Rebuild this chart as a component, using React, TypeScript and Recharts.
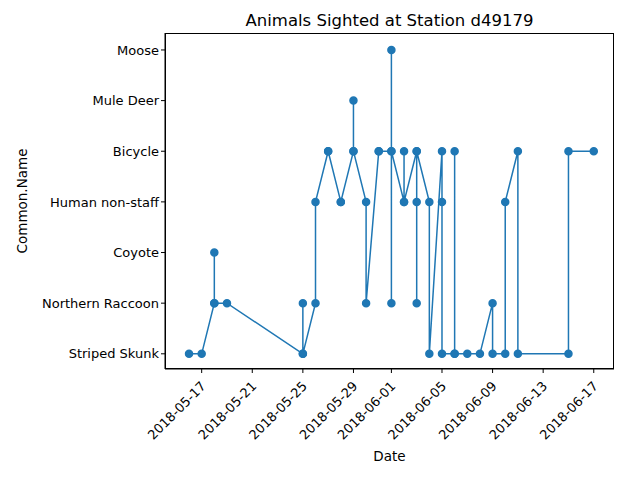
import { LineChart, Line, XAxis, YAxis } from "recharts";

const categories = ["Striped Skunk", "Northern Raccoon", "Coyote", "Human non-staff", "Bicycle", "Mule Deer", "Moose"];

const sightingDates = [
	"2018-05-16", "2018-05-17", "2018-05-18", "2018-05-18", "2018-05-18", "2018-05-19",
	"2018-05-25", "2018-05-25", "2018-05-25", "2018-05-26", "2018-05-26", "2018-05-27",
	"2018-05-27", "2018-05-28", "2018-05-28", "2018-05-29", "2018-05-29", "2018-05-29",
	"2018-05-30", "2018-05-30", "2018-05-31", "2018-05-31", "2018-06-01", "2018-06-01",
	"2018-06-01", "2018-06-01", "2018-06-02", "2018-06-02", "2018-06-02", "2018-06-03",
	"2018-06-03", "2018-06-03", "2018-06-03", "2018-06-04", "2018-06-04", "2018-06-05",
	"2018-06-05", "2018-06-05", "2018-06-06", "2018-06-06", "2018-06-06", "2018-06-07",
	"2018-06-08", "2018-06-09", "2018-06-09", "2018-06-10", "2018-06-10", "2018-06-11",
	"2018-06-11", "2018-06-15", "2018-06-15", "2018-06-17",
];

const sightingNames = [
	"Striped Skunk", "Striped Skunk", "Northern Raccoon", "Coyote", "Northern Raccoon", "Northern Raccoon",
	"Striped Skunk", "Northern Raccoon", "Striped Skunk", "Northern Raccoon", "Human non-staff", "Bicycle",
	"Bicycle", "Human non-staff", "Human non-staff", "Bicycle", "Mule Deer", "Bicycle",
	"Human non-staff", "Northern Raccoon", "Bicycle", "Bicycle", "Bicycle", "Moose",
	"Northern Raccoon", "Bicycle", "Human non-staff", "Bicycle", "Human non-staff", "Bicycle",
	"Northern Raccoon", "Human non-staff", "Bicycle", "Human non-staff", "Striped Skunk", "Bicycle",
	"Human non-staff", "Striped Skunk", "Striped Skunk", "Bicycle", "Striped Skunk", "Striped Skunk",
	"Striped Skunk", "Northern Raccoon", "Striped Skunk", "Striped Skunk", "Human non-staff", "Bicycle",
	"Striped Skunk", "Striped Skunk", "Bicycle", "Bicycle",
];

const tickDates = ["2018-05-17", "2018-05-21", "2018-05-25", "2018-05-29", "2018-06-01", "2018-06-05", "2018-06-09", "2018-06-13", "2018-06-17"];

const DAY = 86400000;
const base = Date.UTC(2018, 4, 16);
const toDay = (s: string) => (Date.parse(s + "T00:00:00Z") - base) / DAY;
const dayToLabel = (d: number) => new Date(base + d * DAY).toISOString().slice(0, 10);

const data = sightingDates.map((d, i) => ({ day: toDay(d), y: categories.indexOf(sightingNames[i]) }));
const xTicks = tickDates.map(toDay);

const font = "DejaVu Sans, sans-serif";

function DateTick(props: any) {
	const { x, y, payload } = props;
	return (
		<text x={x + 5} y={y + 12} transform={`rotate(-45, ${x + 5}, ${y + 12})`} textAnchor="end" fontSize={13} fill="#000" fontFamily={font}>
			{dayToLabel(payload.value)}
		</text>
	);
}

export default function App() {
	return (
		<div style={{ position: "absolute", left: 0, top: 0, width: 640, height: 480, background: "#fff", fontFamily: font }}>
			<div style={{ position: "absolute", top: 11, left: 165, width: 449, textAlign: "center", fontSize: 16.5 }}>
				Animals Sighted at Station d49179
			</div>
			<div style={{ position: "absolute", top: 448, left: 165, width: 449, textAlign: "center", fontSize: 13.5 }}>Date</div>
			<div style={{ position: "absolute", left: 22, top: 201, transform: "translate(-50%, -50%) rotate(-90deg)", fontSize: 13.5, whiteSpace: "nowrap" }}>
				Common.Name
			</div>
			<div style={{ position: "absolute", left: 165, top: 33, width: 449, height: 336, boxSizing: "border-box", border: "1px solid #000" }} />
			<div style={{ position: "absolute", left: 0, top: 0 }}>
				<LineChart width={640} height={480} data={data} margin={{ top: 33, right: 26, bottom: 81, left: 0 }}>
					<XAxis
						dataKey="day"
						type="number"
						domain={[-1.9, 33.6]}
						ticks={xTicks}
						tick={<DateTick />}
						tickSize={4}
						stroke="#000"
						interval={0}
						height={30}
						allowDataOverflow
					/>
					<YAxis
						dataKey="y"
						type="number"
						domain={[-0.3, 6.335]}
						ticks={[0, 1, 2, 3, 4, 5, 6]}
						tickFormatter={(v: number) => categories[v]}
						width={165}
						tickSize={4}
						stroke="#000"
						tick={{ fill: "#000", fontSize: 13, fontFamily: font }}
						interval={0}
						allowDataOverflow
					/>
					<Line
						type="linear"
						dataKey="y"
						stroke="#1f77b4"
						strokeWidth={1.5}
						dot={{ r: 3.5, fill: "#1f77b4", stroke: "#1f77b4" }}
						isAnimationActive={false}
					/>
				</LineChart>
			</div>
		</div>
	);
}
